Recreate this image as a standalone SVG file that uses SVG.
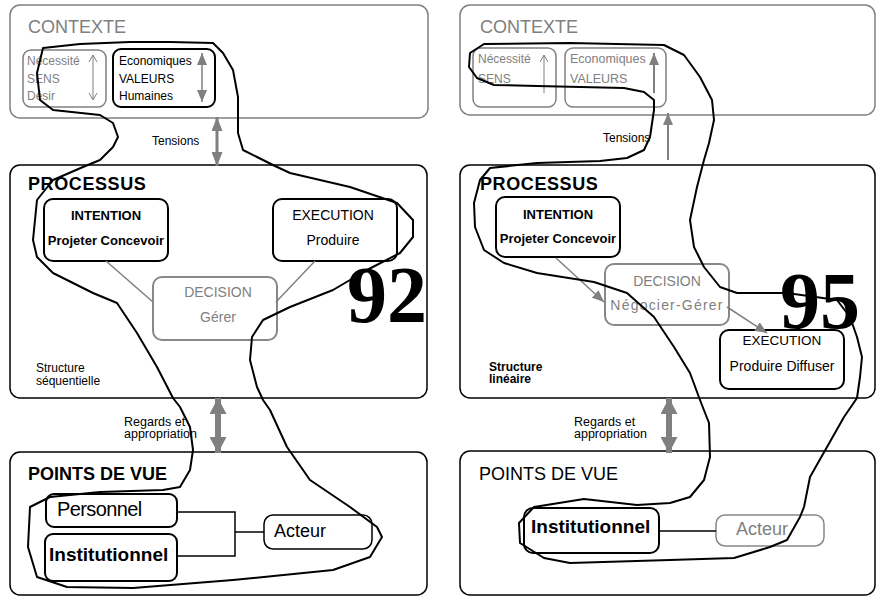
<svg xmlns="http://www.w3.org/2000/svg" width="877" height="597" viewBox="0 0 877 597">
<style>
text{font-family:"Liberation Sans",Arial,sans-serif;}
.box{fill:none;stroke:#000;stroke-width:1.5;}
.gbox{fill:none;stroke:#808080;stroke-width:1.5;}
.ibox{fill:#fff;stroke:#000;stroke-width:2;}
.igbox{fill:#fff;stroke:#888;stroke-width:2;}
.title{font-size:18px;fill:#808080;}
.btitle{font-size:18px;font-weight:bold;fill:#000;}
.small{font-size:12px;}
.g{fill:#808080;}
.b{font-weight:bold;}
.mid{text-anchor:middle;}
.big{font-family:"Liberation Serif","Times New Roman",serif;font-weight:bold;font-size:80px;fill:#000;}
.lasso{fill:none;stroke:#000;stroke-width:2;stroke-linejoin:round;}
.gl{stroke:#808080;fill:none;}
</style>
<defs>
<marker id="open" markerUnits="userSpaceOnUse" markerWidth="8" markerHeight="10" refX="7" refY="4" orient="auto-start-reverse" viewBox="0 0 8 8">
<path d="M0,0 L7,4 L0,8" fill="none" stroke="#808080" stroke-width="1"/>
</marker>
<marker id="tri" markerUnits="userSpaceOnUse" markerWidth="12" markerHeight="10" refX="12" refY="5" orient="auto-start-reverse" viewBox="0 0 12 10">
<path d="M0,0 L12,5 L0,10 z" fill="#808080"/>
</marker>
<marker id="tri2" markerUnits="userSpaceOnUse" markerWidth="14" markerHeight="11" refX="14" refY="5.5" orient="auto-start-reverse" viewBox="0 0 14 11">
<path d="M0,0 L14,5.5 L0,11 z" fill="#808080"/>
</marker>
<marker id="big" markerUnits="userSpaceOnUse" markerWidth="16" markerHeight="17" refX="16" refY="8.5" orient="auto-start-reverse" viewBox="0 0 16 17">
<path d="M0,0 L16,8.5 L0,17 z" fill="#808080"/>
</marker>
</defs>

<!-- LEFT DIAGRAM -->
<g id="contexte-left">
<rect class="gbox" x="10" y="5" width="418" height="113" rx="10"/>
<text class="title" x="28" y="33">CONTEXTE</text>
</g>
<g id="sens-left">
<rect class="gbox" x="23" y="50" width="83" height="57" rx="8"/>
<text class="small g" x="27" y="65">Nécessité</text>
<text class="small g" x="27" y="83">SENS</text>
<text class="small g" x="27" y="100">Désir</text>
</g>
<g id="valeurs-left">
<rect class="ibox" x="113" y="49" width="102" height="58" rx="8" style="fill:none"/>
<text class="small" x="119" y="65">Economiques</text>
<text class="small" x="119" y="83">VALEURS</text>
<text class="small" x="119" y="100">Humaines</text>
</g>
<g id="processus-left">
<rect class="box" x="10" y="165" width="417" height="233" rx="10"/>
<text class="btitle" x="28" y="190" style="letter-spacing:0.6px">PROCESSUS</text>
<text class="small" x="36" y="372">Structure</text>
<text class="small" x="36" y="385">séquentielle</text>
</g>
<g id="intention-left">
<rect class="ibox" x="44" y="199" width="124" height="62" rx="9"/>
<text class="b mid" x="106" y="220" font-size="13">INTENTION</text>
<text class="b mid" x="106" y="245" font-size="13">Projeter Concevoir</text>
</g>
<g id="execution-left">
<rect class="ibox" x="273" y="199" width="124" height="62" rx="9"/>
<text class="mid" x="333" y="220" font-size="14">EXECUTION</text>
<text class="mid" x="333" y="245" font-size="14">Produire</text>
</g>
<g id="decision-left">
<rect class="igbox" x="153" y="277" width="124" height="63" rx="9"/>
<text class="mid g" x="218" y="297" font-size="14">DECISION</text>
<text class="mid g" x="218" y="322" font-size="14">Gérer</text>
</g>
<g id="pdv-left">
<rect class="box" x="10" y="452" width="417" height="143" rx="10"/>
<text class="btitle" x="28" y="480">POINTS DE VUE</text>
</g>
<g id="personnel-left">
<rect class="ibox" x="46" y="494" width="131" height="33" rx="8"/>
<text x="57" y="516" font-size="20" style="letter-spacing:-0.6px">Personnel</text>
</g>
<g id="institutionnel-left">
<rect class="ibox" x="45" y="534" width="132" height="47" rx="8"/>
<text class="b" x="49" y="561" font-size="19">Institutionnel</text>
</g>
<g id="acteur-left">
<rect class="box" x="264" y="515" width="108" height="34" rx="9" style="fill:#fff"/>
<text x="274" y="537" font-size="18">Acteur</text>
</g>
<text class="big" x="347" y="322">92</text>

<!-- RIGHT DIAGRAM -->
<g id="contexte-right">
<rect class="gbox" x="460" y="5" width="415" height="110" rx="10"/>
<text class="title" x="480" y="33">CONTEXTE</text>
</g>
<g id="sens-right">
<rect class="gbox" x="473" y="48" width="83" height="59" rx="8"/>
<text class="small g" x="478" y="63">Nécessité</text>
<text class="small g" x="478" y="83">SENS</text>
</g>
<g id="valeurs-right">
<rect class="gbox" x="565" y="48" width="101" height="59" rx="8"/>
<text class="g" x="570" y="63" font-size="12.5">Economiques</text>
<text class="g" x="570" y="83" font-size="12.5">VALEURS</text>
</g>
<g id="processus-right">
<rect class="box" x="460" y="165" width="415" height="233" rx="10"/>
<text class="btitle" x="480" y="190" style="letter-spacing:0.6px">PROCESSUS</text>
<text class="small b" x="489" y="371">Structure</text>
<text class="small b" x="489" y="383">linéaire</text>
</g>
<g id="intention-right">
<rect class="ibox" x="496" y="197" width="124" height="60" rx="9"/>
<text class="b mid" x="558" y="219" font-size="13">INTENTION</text>
<text class="b mid" x="558" y="243" font-size="13">Projeter Concevoir</text>
</g>
<g id="decision-right">
<rect class="igbox" x="605" y="264" width="124" height="61" rx="9"/>
<text class="mid g" x="667" y="286" font-size="14">DECISION</text>
<text class="mid g" x="667" y="310" font-size="14" style="letter-spacing:1.2px">Négocier-Gérer</text>
</g>
<g id="execution-right">
<rect class="ibox" x="720" y="330" width="124" height="59" rx="9"/>
<text class="mid" x="782" y="345" font-size="13.5">EXECUTION</text>
<text class="mid" x="782" y="371" font-size="14">Produire Diffuser</text>
</g>
<g id="pdv-right">
<rect class="box" x="460" y="451" width="415" height="144" rx="10"/>
<text x="479" y="480" font-size="18">POINTS DE VUE</text>
</g>
<g id="institutionnel-right">
<rect class="ibox" x="524" y="508" width="135" height="45" rx="9"/>
<text class="b" x="531" y="533" font-size="19">Institutionnel</text>
</g>
<g id="acteur-right">
<rect class="igbox" x="716" y="515" width="108" height="31" rx="9" style="stroke-width:1.5"/>
<text class="g" x="736" y="535" font-size="18">Acteur</text>
</g>
<text class="big" x="780" y="328">95</text>

<!-- CONNECTORS -->
<g id="connectors">
<line class="gl" x1="93" y1="55" x2="93" y2="100" stroke-width="1" marker-start="url(#open)" marker-end="url(#open)"/>
<line class="gl" x1="202" y1="53" x2="202" y2="102" stroke-width="1.5" marker-start="url(#tri)" marker-end="url(#tri)"/>
<line class="gl" x1="217" y1="117" x2="217" y2="166" stroke-width="3" marker-start="url(#tri2)" marker-end="url(#tri2)"/>
<text x="152" y="145" font-size="12">Tensions</text>
<line class="gl" x1="106" y1="261" x2="153" y2="302" stroke-width="1.5"/>
<line class="gl" x1="315" y1="261" x2="276" y2="302" stroke-width="1.5"/>
<line class="gl" x1="218" y1="398" x2="218" y2="453" stroke-width="6" marker-start="url(#big)" marker-end="url(#big)"/>
<text x="124" y="426" font-size="12.5">Regards et</text>
<text x="124" y="438" font-size="12.5">appropriation</text>
<polyline points="177,512 235,512 235,556 177,556" fill="none" stroke="#000" stroke-width="1.5"/>
<line x1="235" y1="532" x2="264" y2="532" stroke="#000" stroke-width="1.5"/>

<line class="gl" x1="544" y1="93" x2="544" y2="55" stroke-width="1" marker-end="url(#open)"/>
<line class="gl" x1="654" y1="93" x2="654" y2="53" stroke-width="2" marker-end="url(#tri)"/>
<line class="gl" x1="668" y1="160" x2="668" y2="113" stroke-width="2" marker-end="url(#tri)"/>
<text x="603" y="142" font-size="12">Tensions</text>
<line class="gl" x1="556" y1="258" x2="604" y2="302" stroke-width="1.5" marker-end="url(#tri)"/>
<line class="gl" x1="727" y1="307" x2="767" y2="333" stroke-width="1.5" marker-end="url(#tri)"/>
<line class="gl" x1="669" y1="398" x2="669" y2="453" stroke-width="6" marker-start="url(#big)" marker-end="url(#big)"/>
<text x="574" y="426" font-size="12.5">Regards et</text>
<text x="574" y="438" font-size="12.5">appropriation</text>
<line x1="659" y1="531" x2="716" y2="531" stroke="#000" stroke-width="1.5"/>
</g>

<!-- LASSOS -->
<g id="lasso-left">
<path class="lasso" d="M43,48 L80,44 L130,42 L170,42 L213,43 L223,53 L233,70 L238,97 L238,133 L243,150 L257,157 L275,166 L290,173 L350,187 L397,203 L413,220 L413,237 L400,253 L367,270 L333,290 L290,307 L263,320 L252,337 L250,360 L257,387 L263,400 L270,410 L287,447 L310,480 L350,507 L377,527 L382,537 L370,557 L333,570 L233,580 L133,588 L67,587 L37,577 L28,547 L30,507 L50,497 L100,492 L163,490 L180,487 L190,470 L193,450 L190,427 L180,407 L173,398 L157,367 L137,333 L117,303 L93,293 L53,273 L37,257 L33,240 L37,200 L53,180 L83,167 L100,160 L113,147 L118,137 L113,123 L100,115 L53,110 L40,100 L37,73 Z"/>
</g>
<g id="lasso-right">
<path class="lasso" d="M484,44 L570,43 L664,45 L684,55 L700,77 L712,100 L714,120 L709,143 L704,160 L697,187 L690,220 L694,247 L704,267 L720,287 L737,293 L787,293 L837,300 L850,317 L857,337 L862,357 L860,377 L857,398 L844,417 L827,447 L810,477 L804,507 L800,517 L787,540 L770,547 L734,558 L670,560 L570,563 L544,558 L520,543 L519,523 L534,507 L584,499 L637,505 L670,503 L690,497 L704,480 L710,457 L709,423 L700,400 L690,373 L674,347 L654,317 L627,293 L594,282 L537,273 L504,263 L484,250 L475,227 L474,203 L480,180 L490,168 L537,163 L600,161 L627,158 L644,150 L650,137 L654,110 L654,100 L644,92 L624,88 L537,86 L494,85 L477,78 L469,67 L470,53 Z"/>
</g>
</svg>
